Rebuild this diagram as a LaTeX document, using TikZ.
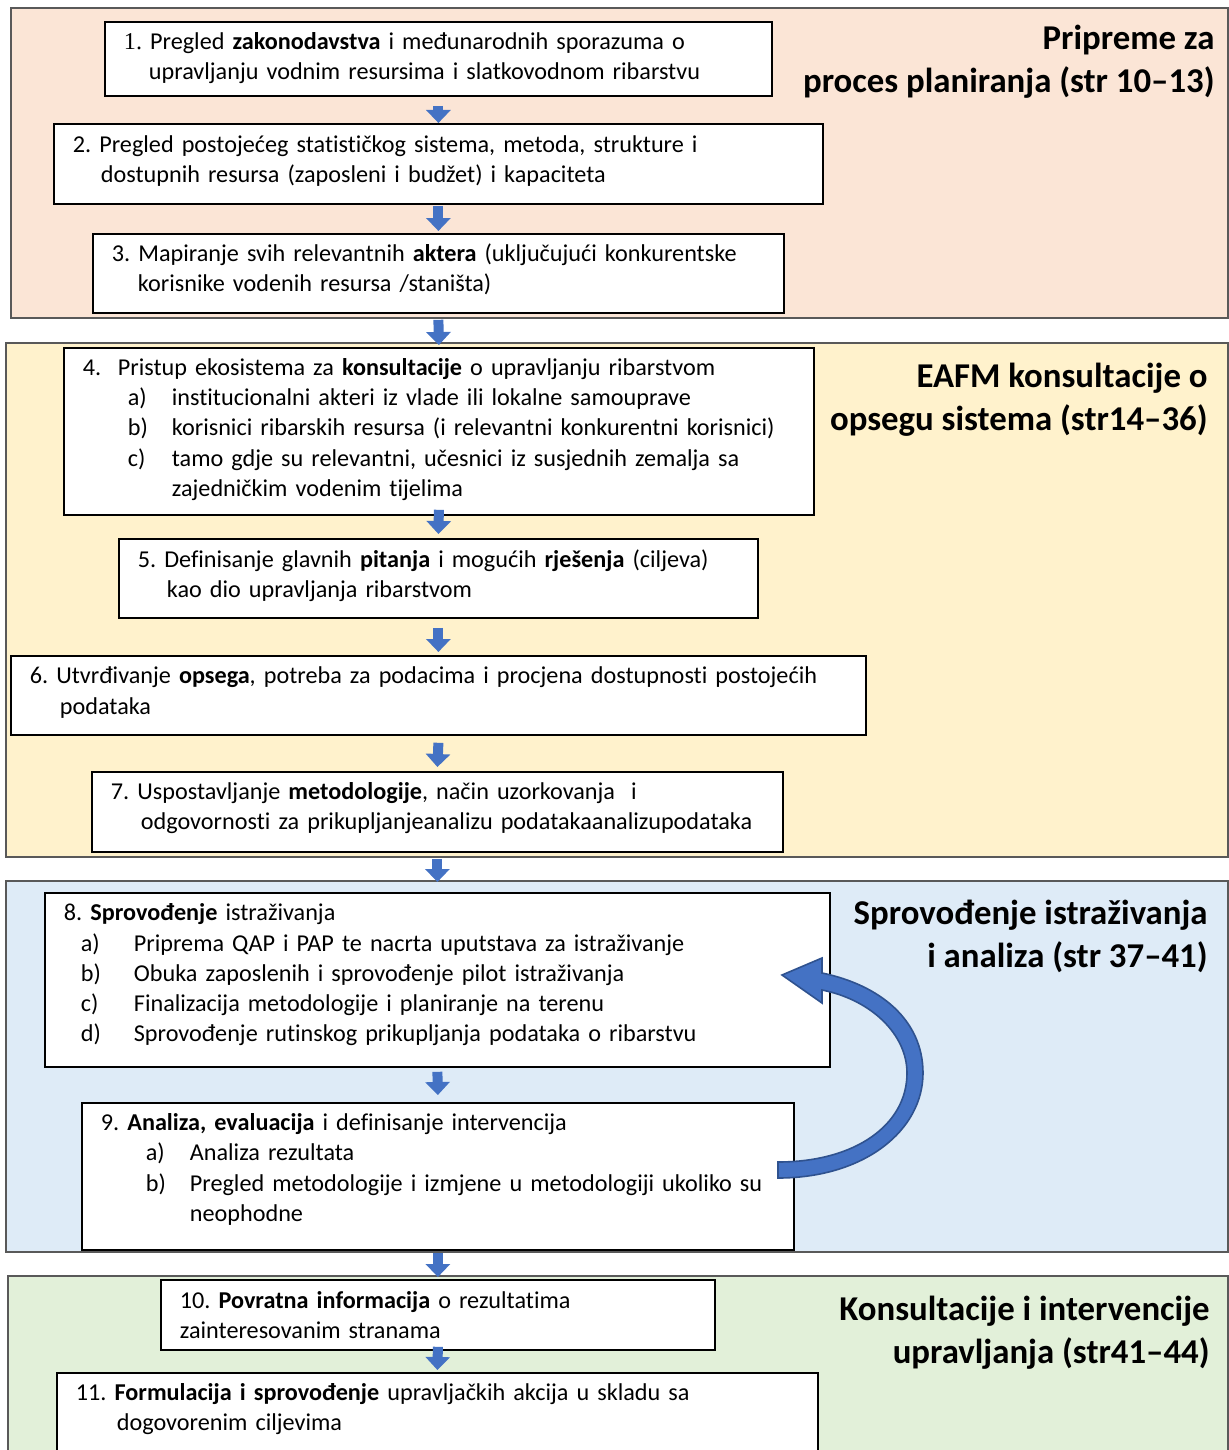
\documentclass[tikz,border=0pt]{standalone}
\usepackage{fontspec}
\setmainfont{Carlito}[Ligatures={TeX,NoCommon}]
\newfontfamily\numfont{Liberation Serif}
\usetikzlibrary{arrows.meta}
\definecolor{peachbg}{HTML}{FBE5D6}
\definecolor{yellowbg}{HTML}{FFF2CC}
\definecolor{bluebg}{HTML}{DEEBF7}
\definecolor{greenbg}{HTML}{E2F0D9}
\definecolor{arrowfill}{HTML}{4472C4}
\definecolor{arrowedge}{HTML}{2F528F}
\definecolor{panelline}{HTML}{595959}
\newcommand{\stepfont}{\fontsize{12.1}{15.15}\selectfont\frenchspacing\hyphenpenalty=10000\relax}
\tikzset{stepbox/.style = {draw, fill=white, line width=0.9pt, inner xsep=9.5pt, inner ysep=0pt,
                           anchor=north west, align=left, font=\stepfont},
         phase/.style = {draw=panelline, line width=0.6pt},
         phasetitle/.style = {anchor=north east, align=right, inner sep=0pt,
                              font=\fontsize{17.4}{21.5}\selectfont\bfseries},
         flow/.style = {arrowfill, line width=5pt, -{Triangle[width=12pt, length=6.5pt]}}}
\newcommand{\lab}[1]{\makebox[22pt][l]{#1}}
\newcommand{\lift}[1]{\par\vspace*{#1}\hrule height 0pt}

\begin{document}
\begin{tikzpicture}[x=0.5pt, y=-0.5pt]
      \useasboundingbox (0,0) rectangle (1229,1450);
      \clip (0,0) rectangle (1229,1450);
      % phases
      \draw [phase, fill=peachbg] (11,8) rectangle (1228,318);
      \draw [phase, fill=yellowbg] (6,343) rectangle (1228,857);
      \draw [phase, fill=bluebg] (6,881) rectangle (1228,1252);
      \draw [phase, fill=greenbg] (8,1276) rectangle (1228,1470);
      \node (t1) [phasetitle] at (1215,25) {Pripreme za\\proces planiranja (str 10–13)};
      \node (t2) [phasetitle] at (1208,363) {EAFM konsultacije o\\opsegu sistema (str14–36)};
      \node (t3) [phasetitle] at (1208,900) {Sprovođenje istraživanja\\i analiza (str 37–41)};
      \node (t4) [phasetitle] at (1210,1296) {Konsultacije i intervencije\\upravljanja (str41–44)};
      % steps
      \node (s1) [stepbox, text width=314.5pt, minimum height=37pt] at (104,21)
            {{\numfont 1.} Pregled \textbf{zakonodavstva} i međunarodnih sporazuma o\\
             \hspace*{12.5pt}upravljanju vodnim resursima i slatkovodnom ribarstvu\lift{1pt}};
      \node (s2) [stepbox, text width=365.5pt, minimum height=40pt] at (53,123)
            {2. Pregled postojećeg statističkog sistema, metoda, strukture i\\
             \hspace*{14pt}dostupnih resursa (zaposleni i budžet) i kapaciteta\lift{3pt}};
      \node (s3) [stepbox, text width=326.5pt, minimum height=39.5pt] at (92,233)
            {3. Mapiranje svih relevantnih \textbf{aktera} (uključujući konkurentske\\
             \hspace*{13pt}korisnike vodenih resursa /staništa)\lift{4pt}};
      \node (s4) [stepbox, text width=356pt, minimum height=83.5pt] at (63,347)
            {\makebox[17.5pt][l]{4.}Pristup ekosistema za \textbf{konsultacije} o upravljanju ribarstvom\\
             \hspace*{22.5pt}\lab{a)}institucionalni akteri iz vlade ili lokalne samouprave\\
             \hspace*{22.5pt}\lab{b)}korisnici ribarskih resursa (i relevantni konkurentni korisnici)\\
             \hspace*{22.5pt}\lab{c)}tamo gdje su relevantni, učesnici iz susjednih zemalja sa\\
             \hspace*{44.5pt}zajedničkim vodenim tijelima\lift{2pt}};
      \node (s5) [stepbox, text width=300.5pt, minimum height=39.5pt] at (118,538)
            {5. Definisanje glavnih \textbf{pitanja} i mogućih \textbf{rješenja} (ciljeva)\\
             \hspace*{14.5pt}kao dio upravljanja ribarstvom\lift{3pt}};
      \node (s6) [stepbox, text width=408.5pt, minimum height=39.5pt] at (10,655)
            {6. Utvrđivanje \textbf{opsega}, potreba za podacima i procjena dostupnosti postojećih\\
             \hspace*{15pt}podataka\lift{3pt}};
      \node (s7) [stepbox, text width=326.5pt, minimum height=40pt] at (91,771)
            {7. Uspostavljanje \textbf{metodologije}, način uzorkovanja\ \ i\\
             \hspace*{15pt}odgovornosti za prikupljanjeanalizu podatakaanalizupodataka\lift{4pt}};
      \node (s8) [stepbox, text width=373.5pt, minimum height=87pt] at (44,892)
            {8. \textbf{Sprovođenje} istraživanja\\
             \hspace*{8.5pt}\makebox[26.5pt][l]{a)}Priprema QAP i PAP te nacrta uputstava za istraživanje\\
             \hspace*{8.5pt}\makebox[26.5pt][l]{b)}Obuka zaposlenih i sprovođenje pilot istraživanja\\
             \hspace*{8.5pt}\makebox[26.5pt][l]{c)}Finalizacija metodologije i planiranje na terenu\\
             \hspace*{8.5pt}\makebox[26.5pt][l]{d)}Sprovođenje rutinskog prikupljanja podataka o ribarstvu\lift{5pt}};
      \node (s9) [stepbox, text width=337pt, minimum height=73.5pt] at (81,1102)
            {9. \textbf{Analiza, evaluacija} i definisanje intervencija\\
             \hspace*{22.5pt}\lab{a)}Analiza rezultata\\
             \hspace*{22.5pt}\lab{b)}Pregled metodologije i izmjene u metodologiji ukoliko su\\
             \hspace*{44.5pt}neophodne\lift{7pt}};
      \node (s10) [stepbox, text width=258pt, minimum height=35pt] at (160,1279)
            {10. \textbf{Povratna informacija} o rezultatima\\
             zainteresovanim stranama};
      \node (s11) [stepbox, text width=361.5pt, minimum height=40pt] at (56,1372)
            {11. \textbf{Formulacija i sprovođenje} upravljačkih akcija u skladu sa\\
             \hspace*{20.5pt}dogovorenim ciljevima\lift{4pt}};
      % arrows
      \draw [flow] ([yshift=-4.5pt]s1.south) -- (s2.north);
      \draw [flow] ([yshift=-0.5pt]s2.south) -- ([yshift=1pt]s3.north);
      \draw [flow] ([yshift=-3pt]s3.south) -- ([yshift=1pt]s4.north);
      \draw [flow] ([yshift=3pt]s4.south) -- ([yshift=2pt]s5.north);
      \draw [flow] ([yshift=-4.5pt]s5.south) -- ([yshift=1.5pt]s6.north);
      \draw [flow] ([yshift=-3.5pt]s6.south) -- ([yshift=2pt]s7.north);
      \draw [flow] ([yshift=-3pt]s7.south) -- ([yshift=5pt]s8.north);
      \draw [flow] ([yshift=-2pt]s8.south) -- ([yshift=3.5pt]s9.north);
      \draw [flow] ([yshift=-1pt]s9.south) -- ([yshift=1pt]s10.north);
      \draw [flow] ([yshift=2pt]s10.south) -- ([yshift=1pt]s11.north);
      % loop back
      \filldraw [fill=arrowfill, draw=arrowedge, line width=0.8pt]
            (778,1178) .. controls (865,1178) and (923,1130) .. (923,1073)
            .. controls (923,1020) and (880,985) .. (822,973)
            -- (822,958) -- (782,975) -- (822,1003) -- (822,990)
            .. controls (872,1000) and (907,1035) .. (907,1073)
            .. controls (907,1125) and (855,1162) .. (778,1162) -- cycle;
\end{tikzpicture}
\end{document}
